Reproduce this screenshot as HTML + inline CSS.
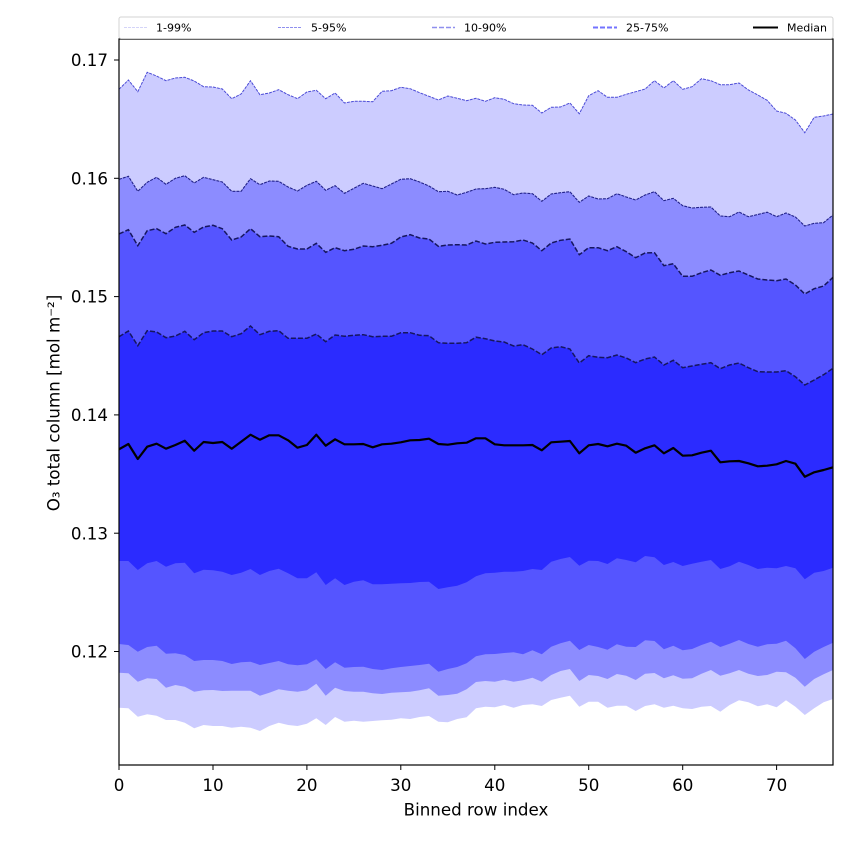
<!DOCTYPE html>
<html><head><meta charset="utf-8"><style>
html,body{margin:0;padding:0;background:#fff;}
svg{display:block;}
text{font-family:"DejaVu Sans","Liberation Sans",sans-serif;fill:#000;}
</style></head><body>
<svg width="850" height="850" viewBox="0 0 850 850" xmlns="http://www.w3.org/2000/svg">
<rect x="0" y="0" width="850" height="850" fill="#fff"/>
<defs><clipPath id="pa"><rect x="119" y="39" width="714" height="726"/></clipPath></defs>
<g clip-path="url(#pa)">
<polygon fill="#ccccff" points="119,89.3 128.4,80 137.8,91.7 147.2,72.3 156.6,76 166,80.7 175.4,78 184.8,77.3 194.2,81 203.6,86.7 213,87 222.3,89 231.7,98.7 241.1,94 250.5,80.7 259.9,94.7 269.3,93 278.7,89.7 288.1,94.7 297.5,98.7 306.9,92 316.3,90.3 325.7,98.7 335.1,93 344.5,103 353.9,101.3 363.3,101.3 372.7,101.7 382.1,91.3 391.4,90.7 400.8,87.3 410.2,88.7 419.6,92.7 429,96.3 438.4,100 447.8,96 457.2,98.3 466.6,100.7 476,98.3 485.4,101.3 494.8,97.7 504.2,99.3 513.6,103.7 523,105 532.4,105.3 541.8,113 551.2,107.3 560.5,107 569.9,103 579.3,113.7 588.7,95.7 598.1,90.7 607.5,97.3 616.9,97.3 626.3,94.3 635.7,91.7 645.1,89 654.5,80.7 663.9,88 673.3,80.7 682.7,89.3 692.1,86.7 701.5,78.7 710.9,80.7 720.3,84.7 729.6,84.7 739,83 748.4,90 757.8,95 767.2,100.3 776.6,111 786,113.3 795.4,120 804.8,132.7 814.2,117.3 823.6,116 833,114 833,765 119,765"/>
<polygon fill="#8c8cff" points="119,179.3 128.4,176.3 137.8,191.3 147.2,182.3 156.6,177.3 166,184.3 175.4,178.3 184.8,175.7 194.2,183 203.6,177.3 213,179.7 222.3,182 231.7,191.3 241.1,191.3 250.5,178.7 259.9,184.7 269.3,181 278.7,181.3 288.1,187 297.5,191 306.9,185.3 316.3,181.3 325.7,190.3 335.1,185.7 344.5,193.3 353.9,188.3 363.3,183.3 372.7,186 382.1,188.7 391.4,184 400.8,179.3 410.2,178.7 419.6,182 429,186 438.4,191.7 447.8,191.3 457.2,195 466.6,192.3 476,189 485.4,188.7 494.8,187.3 504.2,189.3 513.6,194.7 523,193 532.4,193.7 541.8,201.3 551.2,194 560.5,192.7 569.9,191.7 579.3,202.3 588.7,196 598.1,199 607.5,198.7 616.9,193.7 626.3,197 635.7,200 645.1,195 654.5,191.7 663.9,200.7 673.3,198.3 682.7,205.7 692.1,208 701.5,207.3 710.9,207 720.3,216 729.6,216.7 739,212 748.4,216.7 757.8,214.5 767.2,212.2 776.6,216.7 786,213 795.4,217 804.8,226 814.2,223.3 823.6,222.7 833,215 833,765 119,765"/>
<polygon fill="#5555ff" points="119,234 128.4,229.7 137.8,245.7 147.2,230.7 156.6,228.7 166,233.7 175.4,227.3 184.8,225 194.2,232.3 203.6,227 213,225.3 222.3,228.7 231.7,240 241.1,237 250.5,228.7 259.9,236.7 269.3,236 278.7,236.7 288.1,246.3 297.5,249 306.9,249 316.3,243.3 325.7,252.3 335.1,247.7 344.5,250.7 353.9,249.3 363.3,246 372.7,246.7 382.1,245.3 391.4,243.3 400.8,237 410.2,234.7 419.6,238 429,239 438.4,246.3 447.8,245 457.2,244.7 466.6,245 476,241 485.4,244 494.8,242.3 504.2,242 513.6,241.7 523,240 532.4,243 541.8,250.7 551.2,243 560.5,240.3 569.9,239 579.3,254.7 588.7,247.7 598.1,247.7 607.5,250.7 616.9,246.7 626.3,251.7 635.7,257.7 645.1,253 654.5,252.7 663.9,265.7 673.3,263.7 682.7,276.3 692.1,276.3 701.5,272.7 710.9,270 720.3,275.3 729.6,272.7 739,271 748.4,275 757.8,279 767.2,280 776.6,280.7 786,279 795.4,285 804.8,294 814.2,288.7 823.6,286 833,277.3 833,765 119,765"/>
<polygon fill="#2b2bff" points="119,336.7 128.4,331 137.8,345.7 147.2,330.7 156.6,332 166,337.7 175.4,336 184.8,331.3 194.2,339.7 203.6,332.7 213,331 222.3,331 231.7,336.7 241.1,333.7 250.5,326 259.9,334.7 269.3,331.3 278.7,330.7 288.1,338.3 297.5,338.3 306.9,338.3 316.3,334 325.7,341.7 335.1,335 344.5,336.3 353.9,335.3 363.3,334.7 372.7,336.7 382.1,336.3 391.4,336.3 400.8,332.7 410.2,332.7 419.6,335.3 429,335.7 438.4,342.7 447.8,343.3 457.2,343.3 466.6,342.7 476,337.2 485.4,338.7 494.8,341 504.2,342 513.6,346 523,344.7 532.4,349 541.8,354.7 551.2,348 560.5,346.7 569.9,349 579.3,363 588.7,355.7 598.1,357.3 607.5,357.7 616.9,355 626.3,358 635.7,362.7 645.1,359 654.5,357 663.9,365 673.3,360.3 682.7,367.7 692.1,366 701.5,364.3 710.9,362.7 720.3,368.7 729.6,365 739,363 748.4,367.7 757.8,371.7 767.2,372 776.6,372 786,370.7 795.4,376.7 804.8,385 814.2,380 823.6,374.7 833,368.3 833,765 119,765"/>
<polygon fill="#5555ff" points="119,561 128.4,561 137.8,570 147.2,563.3 156.6,561 166,566.7 175.4,563.3 184.8,562.7 194.2,573.3 203.6,569.7 213,570.3 222.3,571.7 231.7,575 241.1,572.7 250.5,569 259.9,575 269.3,571 278.7,568.7 288.1,573.3 297.5,578.3 306.9,578.3 316.3,572.3 325.7,585 335.1,578.3 344.5,585 353.9,581.7 363.3,580.3 372.7,584.3 382.1,584.3 391.4,583.7 400.8,583.3 410.2,583 419.6,582 429,581.7 438.4,589 447.8,587.3 457.2,585.7 466.6,582.3 476,576.2 485.4,573.3 494.8,572.7 504.2,571.7 513.6,571.7 523,571 532.4,569 541.8,570 551.2,561.7 560.5,559 569.9,557 579.3,565.7 588.7,560.7 598.1,561 607.5,564 616.9,558.3 626.3,560 635.7,562.3 645.1,556 654.5,557.3 663.9,565 673.3,562 682.7,566 692.1,563.7 701.5,561.7 710.9,560 720.3,569 729.6,566.3 739,561.7 748.4,565 757.8,569 767.2,567.7 776.6,568.3 786,566 795.4,568.3 804.8,579.3 814.2,572.7 823.6,571 833,567.7 833,765 119,765"/>
<polygon fill="#8c8cff" points="119,644 128.4,645 137.8,651.7 147.2,647 156.6,645.7 166,653.7 175.4,653.3 184.8,655 194.2,661 203.6,660 213,660 222.3,661 231.7,664 241.1,662.3 250.5,661.7 259.9,665 269.3,663 278.7,661 288.1,664.3 297.5,665.3 306.9,664.3 316.3,659.3 325.7,669 335.1,662.3 344.5,667.7 353.9,667 363.3,666.7 372.7,669 382.1,670 391.4,668.3 400.8,667 410.2,666 419.6,665 429,663.7 438.4,671.7 447.8,669 457.2,667 466.6,663.3 476,656.2 485.4,654.3 494.8,654 504.2,653 513.6,652.3 523,654.3 532.4,650.3 541.8,654.3 551.2,646.7 560.5,643.3 569.9,640.7 579.3,650 588.7,645 598.1,647 607.5,649.7 616.9,644.3 626.3,646.7 635.7,647 645.1,640.3 654.5,641 663.9,649.3 673.3,645.7 682.7,650.3 692.1,649 701.5,645 710.9,641.7 720.3,647 729.6,643.7 739,640 748.4,644 757.8,646.7 767.2,644.3 776.6,643.7 786,640.7 795.4,648.3 804.8,659 814.2,651.7 823.6,647 833,642.7 833,765 119,765"/>
<polygon fill="#ccccff" points="119,672.7 128.4,673.3 137.8,681.7 147.2,678.3 156.6,679 166,687.7 175.4,685 184.8,686.7 194.2,691.7 203.6,690.3 213,690 222.3,691 231.7,690.7 241.1,690.7 250.5,690.7 259.9,695.7 269.3,692.7 278.7,689.3 288.1,690.7 297.5,691.7 306.9,690.3 316.3,683.7 325.7,695.7 335.1,687.7 344.5,691 353.9,691.7 363.3,691.7 372.7,693.3 382.1,694 391.4,692.7 400.8,692.3 410.2,691.7 419.6,690.3 429,688.3 438.4,695.7 447.8,695 457.2,693.7 466.6,689.3 476,682 485.4,681 494.8,681.7 504.2,679.7 513.6,681.7 523,680.3 532.4,677.7 541.8,681.7 551.2,675 560.5,671 569.9,669 579.3,681 588.7,675 598.1,676 607.5,679 616.9,674 626.3,675.7 635.7,680 645.1,673.7 654.5,673 663.9,678.3 673.3,675.3 682.7,678.7 692.1,678.3 701.5,673.7 710.9,670 720.3,675.7 729.6,673.3 739,670 748.4,673.7 757.8,676 767.2,675 776.6,671.7 786,672.3 795.4,677.7 804.8,686.7 814.2,679 823.6,674.3 833,670 833,765 119,765"/>
<polygon fill="#ffffff" points="119,707.7 128.4,708.3 137.8,716.7 147.2,714.3 156.6,715.7 166,720 175.4,720 184.8,722.7 194.2,728.3 203.6,725 213,726 222.3,726 231.7,727.7 241.1,726.7 250.5,727.7 259.9,731 269.3,726 278.7,722.7 288.1,725 297.5,726 306.9,723.7 316.3,718.3 325.7,725 335.1,717 344.5,721.7 353.9,720.7 363.3,721.7 372.7,721 382.1,720.3 391.4,719.7 400.8,718.3 410.2,719 419.6,717 429,716 438.4,721.7 447.8,722.3 457.2,719 466.6,717.3 476,708.3 485.4,706.7 494.8,707.3 504.2,705 513.6,707.7 523,705 532.4,704.3 541.8,706 551.2,700 560.5,697.7 569.9,695.7 579.3,706.7 588.7,701.7 598.1,701.7 607.5,707.7 616.9,705.7 626.3,705.7 635.7,711 645.1,706 654.5,704.3 663.9,707.7 673.3,705.7 682.7,708.3 692.1,709 701.5,706.7 710.9,706 720.3,711.7 729.6,705 739,700.3 748.4,702.3 757.8,706.3 767.2,704.3 776.6,707.3 786,700.3 795.4,706.7 804.8,715 814.2,708.3 823.6,702.3 833,699 833,765 119,765"/>

<polyline fill="none" stroke="#4b4bd6" stroke-width="1" stroke-dasharray="3,1" points="119,89.3 128.4,80 137.8,91.7 147.2,72.3 156.6,76 166,80.7 175.4,78 184.8,77.3 194.2,81 203.6,86.7 213,87 222.3,89 231.7,98.7 241.1,94 250.5,80.7 259.9,94.7 269.3,93 278.7,89.7 288.1,94.7 297.5,98.7 306.9,92 316.3,90.3 325.7,98.7 335.1,93 344.5,103 353.9,101.3 363.3,101.3 372.7,101.7 382.1,91.3 391.4,90.7 400.8,87.3 410.2,88.7 419.6,92.7 429,96.3 438.4,100 447.8,96 457.2,98.3 466.6,100.7 476,98.3 485.4,101.3 494.8,97.7 504.2,99.3 513.6,103.7 523,105 532.4,105.3 541.8,113 551.2,107.3 560.5,107 569.9,103 579.3,113.7 588.7,95.7 598.1,90.7 607.5,97.3 616.9,97.3 626.3,94.3 635.7,91.7 645.1,89 654.5,80.7 663.9,88 673.3,80.7 682.7,89.3 692.1,86.7 701.5,78.7 710.9,80.7 720.3,84.7 729.6,84.7 739,83 748.4,90 757.8,95 767.2,100.3 776.6,111 786,113.3 795.4,120 804.8,132.7 814.2,117.3 823.6,116 833,114"/>
<polyline fill="none" stroke="#22228a" stroke-width="1.1" stroke-dasharray="3,1" points="119,179.3 128.4,176.3 137.8,191.3 147.2,182.3 156.6,177.3 166,184.3 175.4,178.3 184.8,175.7 194.2,183 203.6,177.3 213,179.7 222.3,182 231.7,191.3 241.1,191.3 250.5,178.7 259.9,184.7 269.3,181 278.7,181.3 288.1,187 297.5,191 306.9,185.3 316.3,181.3 325.7,190.3 335.1,185.7 344.5,193.3 353.9,188.3 363.3,183.3 372.7,186 382.1,188.7 391.4,184 400.8,179.3 410.2,178.7 419.6,182 429,186 438.4,191.7 447.8,191.3 457.2,195 466.6,192.3 476,189 485.4,188.7 494.8,187.3 504.2,189.3 513.6,194.7 523,193 532.4,193.7 541.8,201.3 551.2,194 560.5,192.7 569.9,191.7 579.3,202.3 588.7,196 598.1,199 607.5,198.7 616.9,193.7 626.3,197 635.7,200 645.1,195 654.5,191.7 663.9,200.7 673.3,198.3 682.7,205.7 692.1,208 701.5,207.3 710.9,207 720.3,216 729.6,216.7 739,212 748.4,216.7 757.8,214.5 767.2,212.2 776.6,216.7 786,213 795.4,217 804.8,226 814.2,223.3 823.6,222.7 833,215"/>
<polyline fill="none" stroke="#16165e" stroke-width="1.5" stroke-dasharray="5,2" points="119,234 128.4,229.7 137.8,245.7 147.2,230.7 156.6,228.7 166,233.7 175.4,227.3 184.8,225 194.2,232.3 203.6,227 213,225.3 222.3,228.7 231.7,240 241.1,237 250.5,228.7 259.9,236.7 269.3,236 278.7,236.7 288.1,246.3 297.5,249 306.9,249 316.3,243.3 325.7,252.3 335.1,247.7 344.5,250.7 353.9,249.3 363.3,246 372.7,246.7 382.1,245.3 391.4,243.3 400.8,237 410.2,234.7 419.6,238 429,239 438.4,246.3 447.8,245 457.2,244.7 466.6,245 476,241 485.4,244 494.8,242.3 504.2,242 513.6,241.7 523,240 532.4,243 541.8,250.7 551.2,243 560.5,240.3 569.9,239 579.3,254.7 588.7,247.7 598.1,247.7 607.5,250.7 616.9,246.7 626.3,251.7 635.7,257.7 645.1,253 654.5,252.7 663.9,265.7 673.3,263.7 682.7,276.3 692.1,276.3 701.5,272.7 710.9,270 720.3,275.3 729.6,272.7 739,271 748.4,275 757.8,279 767.2,280 776.6,280.7 786,279 795.4,285 804.8,294 814.2,288.7 823.6,286 833,277.3"/>
<polyline fill="none" stroke="#16165e" stroke-width="1.5" stroke-dasharray="5,2" points="119,336.7 128.4,331 137.8,345.7 147.2,330.7 156.6,332 166,337.7 175.4,336 184.8,331.3 194.2,339.7 203.6,332.7 213,331 222.3,331 231.7,336.7 241.1,333.7 250.5,326 259.9,334.7 269.3,331.3 278.7,330.7 288.1,338.3 297.5,338.3 306.9,338.3 316.3,334 325.7,341.7 335.1,335 344.5,336.3 353.9,335.3 363.3,334.7 372.7,336.7 382.1,336.3 391.4,336.3 400.8,332.7 410.2,332.7 419.6,335.3 429,335.7 438.4,342.7 447.8,343.3 457.2,343.3 466.6,342.7 476,337.2 485.4,338.7 494.8,341 504.2,342 513.6,346 523,344.7 532.4,349 541.8,354.7 551.2,348 560.5,346.7 569.9,349 579.3,363 588.7,355.7 598.1,357.3 607.5,357.7 616.9,355 626.3,358 635.7,362.7 645.1,359 654.5,357 663.9,365 673.3,360.3 682.7,367.7 692.1,366 701.5,364.3 710.9,362.7 720.3,368.7 729.6,365 739,363 748.4,367.7 757.8,371.7 767.2,372 776.6,372 786,370.7 795.4,376.7 804.8,385 814.2,380 823.6,374.7 833,368.3"/>
<polyline fill="none" stroke="#000" stroke-width="2.2" stroke-linejoin="round" points="119,449.3 128.4,444 137.8,459 147.2,446.7 156.6,443.7 166,448.7 175.4,445 184.8,440.7 194.2,450.7 203.6,442 213,443 222.3,442 231.7,448.7 241.1,441.7 250.5,434.7 259.9,439.7 269.3,435.3 278.7,435.3 288.1,440.3 297.5,447.7 306.9,445 316.3,434.7 325.7,445.7 335.1,439.3 344.5,444.3 353.9,444.3 363.3,444 372.7,447.3 382.1,444.3 391.4,443.7 400.8,442.3 410.2,440.3 419.6,440 429,438.7 438.4,444 447.8,444.7 457.2,443.3 466.6,442.7 476,438.3 485.4,438.3 494.8,444.3 504.2,445.3 513.6,445.3 523,445.3 532.4,445 541.8,450.3 551.2,442.3 560.5,441.7 569.9,441 579.3,453.3 588.7,445.3 598.1,444 607.5,446.3 616.9,443.7 626.3,445.7 635.7,452.7 645.1,448.3 654.5,445.3 663.9,453.3 673.3,448 682.7,455.7 692.1,455.3 701.5,452.7 710.9,450.7 720.3,462.3 729.6,461.3 739,461 748.4,463.3 757.8,466.3 767.2,465.7 776.6,464.3 786,461 795.4,463.7 804.8,476.7 814.2,472.3 823.6,470 833,467.3"/>
</g>

<!-- axes frame -->
<rect x="119" y="39" width="714" height="726" fill="none" stroke="#000" stroke-width="1.2"/>

<!-- legend -->
<rect x="119" y="17" width="714" height="21.5" rx="2" ry="2" fill="#fff" stroke="#d3d3d3" stroke-width="1"/>
<line x1="124" y1="27.5" x2="147" y2="27.5" stroke="#d4d4f8" stroke-width="1" stroke-dasharray="3,1"/>
<text x="156" y="31.5" font-size="11">1-99%</text>
<line x1="278" y1="27.5" x2="302" y2="27.5" stroke="#8f8fee" stroke-width="1" stroke-dasharray="3,1"/>
<text x="311" y="31.5" font-size="11">5-95%</text>
<line x1="432" y1="27.5" x2="455" y2="27.5" stroke="#8f8fee" stroke-width="1.5" stroke-dasharray="5,2"/>
<text x="464" y="31.5" font-size="11">10-90%</text>
<line x1="593" y1="27.5" x2="617" y2="27.5" stroke="#7373ff" stroke-width="2" stroke-dasharray="5,2"/>
<text x="626" y="31.5" font-size="11">25-75%</text>
<line x1="753" y1="27.5" x2="778" y2="27.5" stroke="#000" stroke-width="2"/>
<text x="787" y="31.5" font-size="11">Median</text>

<!-- x ticks -->
<g stroke="#000" stroke-width="1">
<line x1="119" y1="765" x2="119" y2="770"/>
<line x1="213" y1="765" x2="213" y2="770"/>
<line x1="306.9" y1="765" x2="306.9" y2="770"/>
<line x1="400.8" y1="765" x2="400.8" y2="770"/>
<line x1="494.8" y1="765" x2="494.8" y2="770"/>
<line x1="588.7" y1="765" x2="588.7" y2="770"/>
<line x1="682.7" y1="765" x2="682.7" y2="770"/>
<line x1="776.6" y1="765" x2="776.6" y2="770"/>
</g>
<g font-size="16.7" text-anchor="middle">
<text x="119" y="791">0</text>
<text x="213" y="791">10</text>
<text x="306.9" y="791">20</text>
<text x="400.8" y="791">30</text>
<text x="494.8" y="791">40</text>
<text x="588.7" y="791">50</text>
<text x="682.7" y="791">60</text>
<text x="776.6" y="791">70</text>
</g>
<text x="476" y="815.5" font-size="16.7" text-anchor="middle">Binned row index</text>

<!-- y ticks -->
<g stroke="#000" stroke-width="1">
<line x1="114" y1="651.5" x2="119" y2="651.5"/>
<line x1="114" y1="533.2" x2="119" y2="533.2"/>
<line x1="114" y1="414.9" x2="119" y2="414.9"/>
<line x1="114" y1="296.6" x2="119" y2="296.6"/>
<line x1="114" y1="178.3" x2="119" y2="178.3"/>
<line x1="114" y1="60" x2="119" y2="60"/>
</g>
<g font-size="16.7" text-anchor="end">
<text x="108" y="657.6">0.12</text>
<text x="108" y="539.3">0.13</text>
<text x="108" y="421">0.14</text>
<text x="108" y="302.7">0.15</text>
<text x="108" y="184.4">0.16</text>
<text x="108" y="66.1">0.17</text>
</g>
<text transform="translate(59.5,403) rotate(-90)" font-size="16.7" text-anchor="middle">O₃ total column [mol m⁻²]</text>
</svg>
</body></html>
